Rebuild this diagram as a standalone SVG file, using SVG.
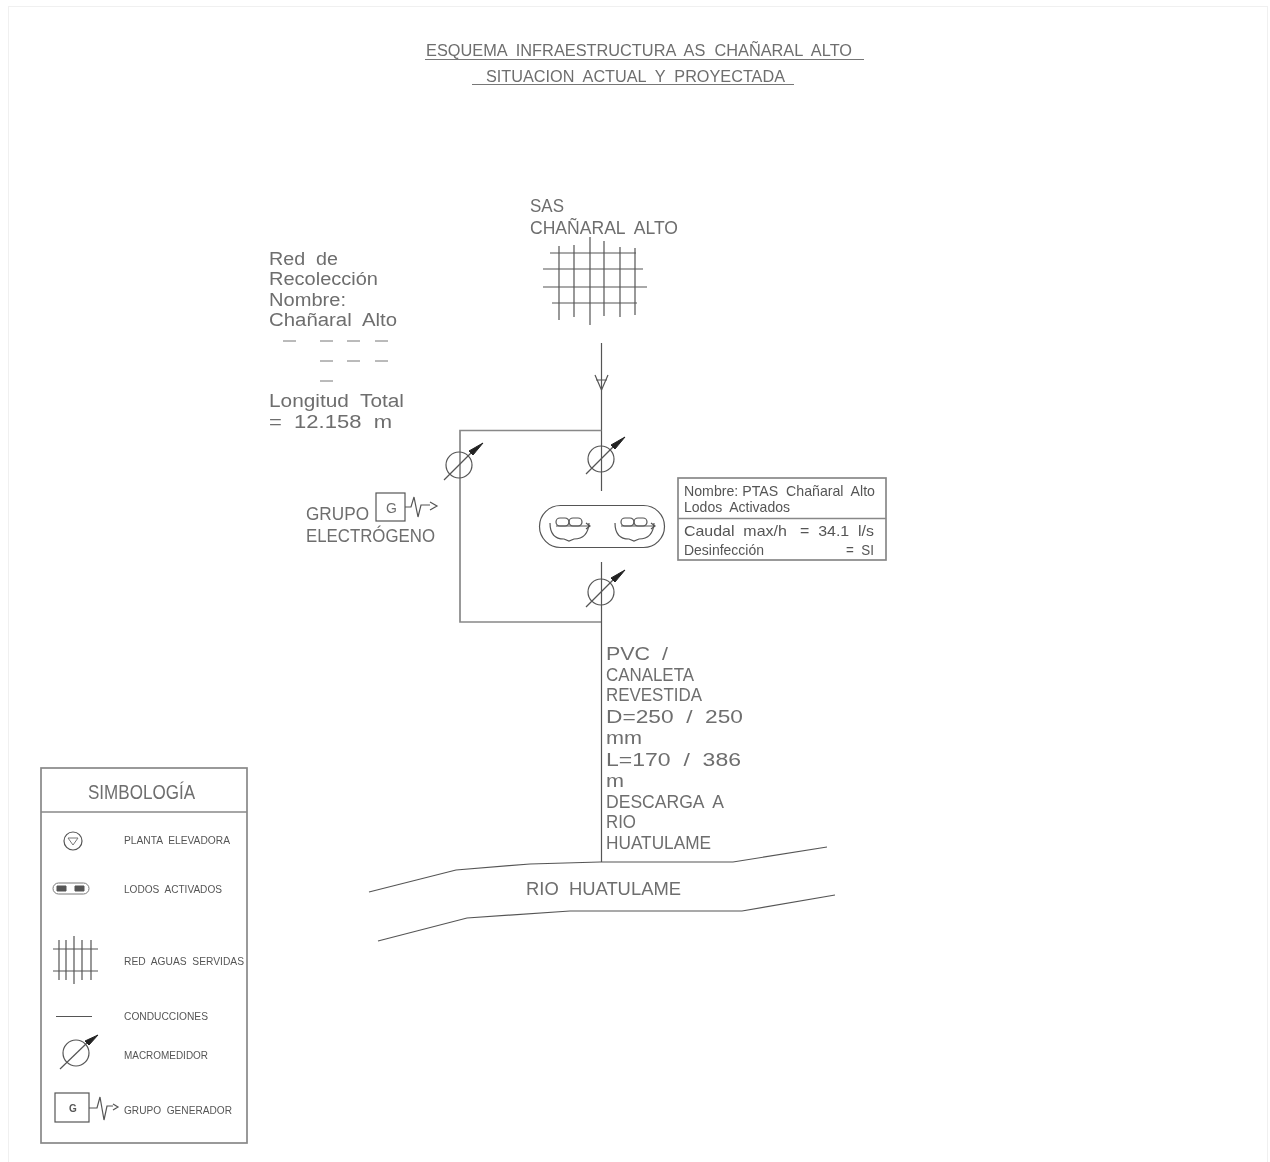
<svg xmlns="http://www.w3.org/2000/svg" width="1270" height="1162" viewBox="0 0 1270 1162">
<style>
text{font-family:"Liberation Sans",Arial,sans-serif;fill:#6e6e6e;font-size:18px;white-space:pre}
.s{font-size:10px;fill:#555}
.m{font-size:15px;fill:#555}
.l{fill:none;stroke:#555;stroke-width:1.2}
.t{fill:none;stroke:#888;stroke-width:1.7}
.u{fill:none;stroke:#777;stroke-width:1}
</style>
<defs>
<filter id="soft" x="0" y="0" width="100%" height="100%"><feGaussianBlur stdDeviation="0.45"/></filter>
<g id="meter"><circle cx="0" cy="0" r="13" class="l"/><path d="M-15 15L13-13" class="l"/><path d="M10-14L14-10L24-22Z" fill="#222" stroke="#222"/></g>
<g id="basin"><path d="M-19-5Q-19 11 -5 11L0 13L5 11Q19 11 20-5" class="l"/><rect x="-13" y="-10" width="13" height="8" rx="4" class="l"/><rect x="0" y="-10" width="13" height="8" rx="4" class="l"/><path d="M-13-2H20M17-5L21-2L17 1" class="l"/></g>
</defs>
<rect width="1270" height="1162" fill="#fff"/>
<g filter="url(#soft)">
<rect x="8.500" y="6.500" width="1259" height="1160" fill="none" stroke="#f0f0f0"/>
<g id="title">
<text x="426" y="56" textLength="426" lengthAdjust="spacingAndGlyphs" style="font-size:16px">ESQUEMA  INFRAESTRUCTURA  AS  CHAÑARAL  ALTO</text>
<path d="M425 59.500H864" class="u"/>
<text x="486" y="82" textLength="299" lengthAdjust="spacingAndGlyphs" style="font-size:16px">SITUACION  ACTUAL  Y  PROYECTADA</text>
<path d="M472 84.500H794" class="u"/>
</g>
<g id="connectors">
<path d="M601.500 343V491" class="l"/>
<path d="M595 375L601.500 390L608 375M596 380H607" class="l"/>
<path d="M601.500 430.500H460V622H601.500" class="t"/>
<path d="M601.500 562V862" class="l"/>
</g>
<g id="sas">
<text x="530" y="212" textLength="34" lengthAdjust="spacingAndGlyphs">SAS</text>
<text x="530" y="234" textLength="148" lengthAdjust="spacingAndGlyphs">CHAÑARAL  ALTO</text>
<path d="M550 253H636M543 269H643M543 287H647M552 303H637M559 246V320M574 245V317M590 237V325M604 241V316M620 247V317M635 248V315" class="l"/>
</g>
<g id="red">
<text x="269" y="265" textLength="69" lengthAdjust="spacingAndGlyphs">Red  de</text>
<text x="269" y="285" textLength="109" lengthAdjust="spacingAndGlyphs">Recolección</text>
<text x="269" y="306" textLength="77" lengthAdjust="spacingAndGlyphs">Nombre:</text>
<text x="269" y="326" textLength="128" lengthAdjust="spacingAndGlyphs">Chañaral  Alto</text>
<path d="M283 341H296M320 341H333M347 341H360M375 341H388M320 361H333M347 361H360M375 361H388M320 381H333" class="u"/>
<text x="269" y="407" textLength="135" lengthAdjust="spacingAndGlyphs">Longitud  Total</text>
<text x="269" y="428" textLength="123" lengthAdjust="spacingAndGlyphs">=  12.158  m</text>
</g>
<g id="meter-1"><use href="#meter" x="459" y="465"/></g>
<g id="meter-2"><use href="#meter" x="601" y="459"/></g>
<g id="meter-3"><use href="#meter" x="601" y="592"/></g>
<g id="grupo">
<text x="306" y="520" textLength="63" lengthAdjust="spacingAndGlyphs">GRUPO</text>
<text x="306" y="542" textLength="129" lengthAdjust="spacingAndGlyphs">ELECTRÓGENO</text>
<rect x="376" y="493" width="29" height="28" class="l"/>
<text x="386" y="513" style="font-size:14px">G</text>
<path d="M405 507H411L414 497L418 517L421 505H430" class="l"/><path d="M430 502L437 506L430 510" class="l"/>
</g>
<g id="ptas">
<rect x="539.500" y="505.500" width="125" height="42" rx="21" class="l"/>
<use href="#basin" x="569" y="528"/>
<use href="#basin" x="634" y="528"/>
</g>
<g id="ptas-info">
<rect x="678" y="478" width="208" height="82" class="t"/>
<path d="M678 518.500H886" class="t"/>
<text class="m" x="684" y="496" textLength="191" lengthAdjust="spacingAndGlyphs">Nombre: PTAS  Chañaral  Alto</text>
<text class="m" x="684" y="512" textLength="106" lengthAdjust="spacingAndGlyphs">Lodos  Activados</text>
<text class="m" x="684" y="536" textLength="190" lengthAdjust="spacingAndGlyphs">Caudal  max/h   =  34.1  l/s</text>
<text class="m" x="684" y="555" textLength="80" lengthAdjust="spacingAndGlyphs">Desinfección</text>
<text class="m" x="846" y="555" textLength="28" lengthAdjust="spacingAndGlyphs">=  SI</text>
</g>
<g id="descarga">
<text x="606" y="660" textLength="62" lengthAdjust="spacingAndGlyphs">PVC  /</text>
<text x="606" y="681" textLength="88" lengthAdjust="spacingAndGlyphs">CANALETA</text>
<text x="606" y="701" textLength="96" lengthAdjust="spacingAndGlyphs">REVESTIDA</text>
<text x="606" y="723" textLength="137" lengthAdjust="spacingAndGlyphs">D=250  /  250</text>
<text x="606" y="744" textLength="36" lengthAdjust="spacingAndGlyphs">mm</text>
<text x="606" y="766" textLength="135" lengthAdjust="spacingAndGlyphs">L=170  /  386</text>
<text x="606" y="787" textLength="18" lengthAdjust="spacingAndGlyphs">m</text>
<text x="606" y="808" textLength="118" lengthAdjust="spacingAndGlyphs">DESCARGA  A</text>
<text x="606" y="828" textLength="30" lengthAdjust="spacingAndGlyphs">RIO</text>
<text x="606" y="849" textLength="105" lengthAdjust="spacingAndGlyphs">HUATULAME</text>
</g>
<g id="rio">
<path d="M369 892L456 870L530 864L600 862H733L827 847" class="l"/>
<path d="M378 941L467 918L570 911H742L835 895" class="l"/>
<text x="526" y="895" textLength="155" lengthAdjust="spacingAndGlyphs">RIO  HUATULAME</text>
</g>
<g id="simbologia">
<rect x="41" y="768" width="206" height="375" class="t"/>
<path d="M41 812H247" class="t"/>
<text x="88" y="799" textLength="107" lengthAdjust="spacingAndGlyphs" style="font-size:20px">SIMBOLOGÍA</text>
<circle cx="73" cy="841" r="9" class="l" stroke-width="1.6"/><path d="M68 838L73 845L78 838Z" class="u"/>
<text class="s" x="124" y="844" textLength="106" lengthAdjust="spacingAndGlyphs">PLANTA  ELEVADORA</text>
<rect x="53" y="883" width="36" height="11" rx="5.500" class="u"/><path d="M57 886h9v5h-9zM75 886h9v5h-9z" fill="#555" stroke="#555"/>
<text class="s" x="124" y="893" textLength="98" lengthAdjust="spacingAndGlyphs">LODOS  ACTIVADOS</text>
<path d="M53 949H98M53 971H98M59 940V980M66 940V980M74 936V984M82 940V980M91 940V980" class="l"/>
<text class="s" x="124" y="965" textLength="120" lengthAdjust="spacingAndGlyphs">RED  AGUAS  SERVIDAS</text>
<path d="M56 1016.500H92" class="l"/>
<text class="s" x="124" y="1020" textLength="84" lengthAdjust="spacingAndGlyphs">CONDUCCIONES</text>
<circle cx="76" cy="1053" r="13" class="l"/><path d="M60 1069L88 1042" class="l"/><path d="M85 1041L89 1045L98 1035Z" fill="#222" stroke="#222"/>
<text class="s" x="124" y="1059" textLength="84" lengthAdjust="spacingAndGlyphs">MACROMEDIDOR</text>
<rect x="55" y="1093" width="34" height="29" class="l"/>
<text class="s" x="69" y="1112" style="font-weight:bold">G</text>
<path d="M89 1108H97L100 1097L104 1120L107 1106H113" class="l"/><path d="M113 1104L118 1107L113 1110" class="l"/>
<text class="s" x="124" y="1114" textLength="108" lengthAdjust="spacingAndGlyphs">GRUPO  GENERADOR</text>
</g>
</g>
</svg>
